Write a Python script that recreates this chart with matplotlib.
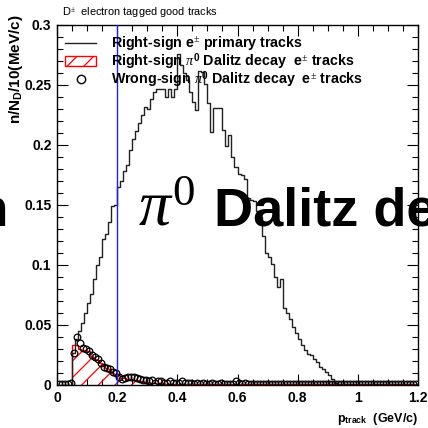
import numpy as np
import matplotlib
matplotlib.use("Agg")
import matplotlib.pyplot as plt
from matplotlib.ticker import MultipleLocator, FixedLocator
from matplotlib.patches import Patch
from matplotlib.lines import Line2D

# ---------------- data ----------------
bin_width = 0.01
x_min, x_max = 0.0, 1.2

# Right-sign e+- primary tracks (bins of 10 MeV starting at 0.05 GeV/c)
primary_start = 0.05
primary = [
    0.027, 0.038, 0.045, 0.052, 0.060, 0.068, 0.076, 0.088, 0.100, 0.107,
    0.122, 0.126, 0.136, 0.149, 0.150, 0.165, 0.170, 0.178, 0.183, 0.196,
    0.205, 0.212, 0.218, 0.225, 0.232, 0.230, 0.238, 0.244, 0.247, 0.247,
    0.247, 0.240, 0.247, 0.240, 0.247, 0.276, 0.267, 0.260, 0.254, 0.244,
    0.236, 0.229, 0.262, 0.261, 0.251, 0.235, 0.211, 0.231, 0.231, 0.231,
    0.2125, 0.199, 0.208, 0.190, 0.182, 0.176, 0.175, 0.172, 0.156, 0.154,
    0.153, 0.145, 0.140, 0.124, 0.110, 0.107, 0.101, 0.090, 0.082, 0.088,
    0.064, 0.060, 0.055, 0.048, 0.043, 0.038, 0.033, 0.029, 0.026, 0.025,
    0.022, 0.019, 0.015, 0.013, 0.011, 0.008, 0.005, 0.002,
]

# Right-sign pi0 Dalitz decay e+- tracks (bins from 0.05 GeV/c)
dalitz_start = 0.05
dalitz_rs = [
    0.033, 0.033, 0.030, 0.029, 0.029, 0.028, 0.024, 0.022, 0.021, 0.018,
    0.017, 0.014, 0.013, 0.010, 0.009, 0.008, 0.006, 0.006, 0.005, 0.005,
    0.004, 0.004, 0.003, 0.003, 0.002, 0.002, 0.002, 0.0015, 0.0015, 0.0015,
    0.0015, 0.0012, 0.0012, 0.0012, 0.001, 0.001, 0.001, 0.001, 0.001, 0.001,
    0.001, 0.001, 0.001, 0.001, 0.001, 0.001, 0.001, 0.001, 0.001, 0.001,
    0.001, 0.001, 0.001, 0.001, 0.001, 0.001, 0.001, 0.001, 0.001, 0.001,
    0.001, 0.001, 0.001, 0.001, 0.001, 0.001, 0.001, 0.001, 0.001, 0.001,
    0.001, 0.001, 0.001, 0.001, 0.001, 0.001, 0.001, 0.001, 0.001, 0.001,
    0.001, 0.001, 0.001, 0.001, 0.001, 0.001, 0.001, 0.001, 0.001, 0.001,
    0.001, 0.001, 0.001, 0.001, 0.001, 0.001, 0.001, 0.001, 0.001, 0.001,
    0.001, 0.001, 0.001, 0.001, 0.001, 0.001, 0.001, 0.001, 0.001, 0.001,
    0.001, 0.001, 0.001, 0.001, 0.001,
]

# Wrong-sign pi0 Dalitz decay e+- tracks (bins from 0.0 GeV/c)
dalitz_ws = [
    0.0005, 0.0005, 0.0005, 0.0005, 0.002, 0.027, 0.040, 0.035, 0.031, 0.030,
    0.028, 0.025, 0.023, 0.022, 0.018, 0.015, 0.014, 0.013, 0.011, 0.010,
    0.007, 0.005, 0.006, 0.007, 0.007, 0.007, 0.006, 0.005, 0.004, 0.004,
    0.003, 0.004, 0.002, 0.003, 0.003, 0.002, 0.002, 0.003, 0.002, 0.002,
    0.002, 0.003, 0.002, 0.002, 0.002, 0.001, 0.002, 0.001, 0.002, 0.001,
    0.001, 0.002, 0.001, 0.001, 0.002, 0.001, 0.001, 0.001, 0.001, 0.003,
    0.002, 0.001, 0.002, 0.001, 0.001, 0.001, 0.001, 0.001, 0.001, 0.001,
    0.001, 0.001, 0.001, 0.001, 0.001, 0.001, 0.001, 0.001, 0.001, 0.001,
    0.001, 0.001, 0.001, 0.001, 0.001, 0.001, 0.001, 0.001, 0.001, 0.001,
    0.001, 0.001, 0.001, 0.001, 0.001, 0.001, 0.001, 0.001, 0.001, 0.001,
    0.001, 0.001, 0.001, 0.001, 0.001, 0.001, 0.001, 0.001, 0.001, 0.001,
    0.001, 0.001, 0.001, 0.001, 0.001, 0.001, 0.001, 0.001, 0.001, 0.001,
]
cut_value = 0.2

x_ticks = [0, 0.2, 0.4, 0.6, 0.8, 1.0, 1.2]
x_ticklabels = ["0", "0.2", "0.4", "0.6", "0.8", "1", "1.2"]
y_ticks = [0, 0.05, 0.1, 0.15, 0.2, 0.25, 0.3]
y_ticklabels = ["0", "0.05", "0.1", "0.15", "0.2", "0.25", "0.3"]

legend_labels = [
    r"Right-sign e$^{\pm}$ primary tracks",
    r"Right-sign $\pi^{\mathbf{0}}$ Dalitz decay  e$^{\pm}$ tracks",
    r"Wrong-sign $\pi^{\mathbf{0}}$ Dalitz decay  e$^{\pm}$ tracks",
]

# ---------------- plot ----------------
plt.rcParams['font.family'] = ['Liberation Sans', 'DejaVu Sans']
plt.rcParams['mathtext.fontset'] = 'custom'
plt.rcParams['mathtext.rm'] = 'Liberation Serif'
plt.rcParams['mathtext.it'] = 'Liberation Serif:italic'
plt.rcParams['mathtext.bf'] = 'Liberation Sans:bold'
plt.rcParams['hatch.linewidth'] = 0.9

fig = plt.figure(figsize=(4.28, 4.28), dpi=100)
ax = fig.add_axes([57 / 428, 1 - 385 / 428, (418 - 57) / 428, (385 - 25) / 428])


def edges_for(start, n):
    return np.round(start + bin_width * np.arange(n + 1), 4)


# primary
pe = edges_for(primary_start, len(primary))
p_full_x = np.concatenate([[x_min], pe, [x_max]])
p_full_y = np.concatenate([[0], primary, [0, 0]])
ax.step(p_full_x, p_full_y, where='post', color='#222222', lw=1.0, zorder=3)

# right-sign Dalitz (hatched)
de = edges_for(dalitz_start, len(dalitz_rs))
ax.stairs(dalitz_rs, de, fill=True, facecolor='none', edgecolor='red',
          hatch='//', lw=0, zorder=2)
ax.stairs(dalitz_rs, de, fill=False, color='red', lw=1.0, zorder=2)

# wrong-sign circles
we = edges_for(0.0, len(dalitz_ws))
wc = 0.5 * (we[:-1] + we[1:])
ax.plot(wc, dalitz_ws, linestyle='none', marker='o', markersize=4.8,
        markerfacecolor='none', markeredgecolor='black', markeredgewidth=0.9,
        zorder=4)

# cut line
ax.axvline(cut_value, color='#2020ff', lw=1.0, zorder=5)

ax.set_xlim(x_min, x_max)
ax.set_ylim(0, 0.3)
ax.xaxis.set_major_locator(FixedLocator(x_ticks))
ax.set_xticklabels(x_ticklabels)
ax.yaxis.set_major_locator(FixedLocator(y_ticks))
ax.set_yticklabels(y_ticklabels)
ax.xaxis.set_minor_locator(MultipleLocator(0.05))
ax.yaxis.set_minor_locator(MultipleLocator(0.01))
ax.tick_params(which='both', direction='in', top=True, right=True,
               width=0.8, labelsize=10)
ax.tick_params(which='major', length=8)
ax.tick_params(which='minor', length=4)
for lab in ax.get_xticklabels() + ax.get_yticklabels():
    lab.set_fontweight('bold')
ax.tick_params(axis='x', pad=4)
ax.tick_params(axis='y', pad=4)
for s in ax.spines.values():
    s.set_linewidth(1.0)

# axis titles
fig.text(16 / 428, 1 - 15 / 428, r"n/N$_{\mathbf{D}}$/10(MeV/c)", rotation=90,
         ha='center', va='top', fontsize=11, fontweight='bold')
fig.text(418 / 428, 1 - 419 / 428, r"p$_{\mathbf{track}}$  (GeV/c)",
         ha='right', va='center', fontsize=9, fontweight='bold')

# title
fig.text(62 / 428, 1 - 13 / 428, r"D$^{\pm}$  electron tagged good tracks",
         ha='left', va='center', fontsize=7.9)

# legend
handles = [
    Line2D([], [], color='#222222', lw=1.0),
    Patch(facecolor='none', edgecolor='red', hatch='//', lw=1.0),
    Line2D([], [], linestyle='none', marker='o', markersize=6,
           markerfacecolor='none', markeredgecolor='black', markeredgewidth=1.0),
]
leg = fig.legend(handles, legend_labels, loc='upper left',
                 bbox_to_anchor=(55 / 428, 1 - 25 / 428), frameon=False,
                 prop={'weight': 'bold', 'size': 10.3}, handlelength=2.2,
                 handleheight=0.7, handletextpad=1.0, labelspacing=-0.18,
                 borderpad=0.2)

# large overlay text
fig.text(9 / 428, 1 - 226 / 428, "Electron", ha='right', va='baseline',
         fontsize=39, fontweight='bold')
fig.text(138 / 428, 1 - 226 / 428, r"$\pi^0$", ha='left', va='baseline',
         fontsize=46)
fig.text(214 / 428, 1 - 226 / 428, "Dalitz decay", ha='left', va='baseline',
         fontsize=39, fontweight='bold')

fig.savefig("out.png", dpi=100)
